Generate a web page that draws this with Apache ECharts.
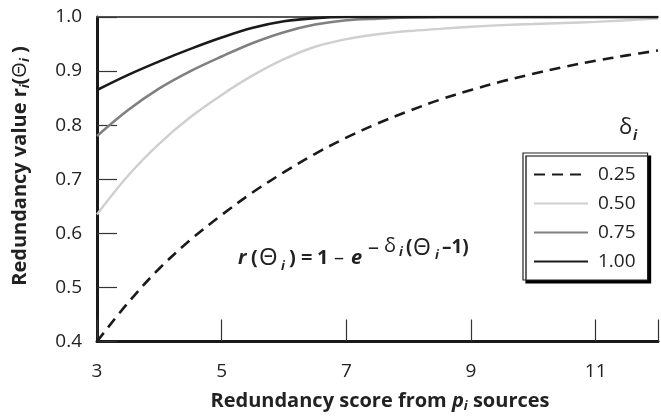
<!DOCTYPE html>
<html>
<head>
<meta charset="utf-8">
<script src="https://cdn.jsdelivr.net/npm/echarts@6/dist/echarts.min.js"></script>
<style>
html,body{margin:0;padding:0;background:#fff;}
#chart{width:661px;height:417px;}
</style>
</head>
<body>
<div id="chart"></div>
<script>
// Redundancy score Θ (x) values
var scores = [3, 3.5, 4, 4.5, 5, 5.5, 6, 6.5, 7, 7.5, 8, 8.5, 9, 9.5, 10, 10.5, 11, 11.5, 12];
// Redundancy value r for each δ
var delta025 = [0.400, 0.472, 0.535, 0.588, 0.634, 0.676, 0.713, 0.747, 0.777, 0.803, 0.826, 0.847, 0.865, 0.881, 0.895, 0.908, 0.919, 0.929, 0.938];
var delta050 = [0.635, 0.707, 0.766, 0.815, 0.856, 0.892, 0.922, 0.945, 0.959, 0.968, 0.974, 0.978, 0.982, 0.985, 0.987, 0.989, 0.991, 0.994, 0.997];
var delta075 = [0.780, 0.828, 0.868, 0.900, 0.927, 0.952, 0.972, 0.986, 0.994, 0.997, 0.999, 1.000, 1.000, 1.000, 1.000, 1.000, 1.000, 1.000, 1.000];
var delta100 = [0.865, 0.893, 0.918, 0.941, 0.962, 0.980, 0.992, 0.998, 1.000, 1.000, 1.000, 1.000, 1.000, 1.000, 1.000, 1.000, 1.000, 1.000, 1.000];
var seriesNames = ['0.25', '0.50', '0.75', '1.00'];
var xTicks = [3, 5, 7, 9, 11];
var yTicks = [0.4, 0.5, 0.6, 0.7, 0.8, 0.9, 1.0];

function pairs(ys) { return scores.map(function (x, i) { return [x, ys[i]]; }); }

var FONT = '"Open Sans", "DejaVu Sans", sans-serif';
var INK = '#222';
var chart = echarts.init(document.getElementById('chart'), null, {renderer: 'canvas'});

function mkSeries(name, ys, color, width, dash, z) {
  return {
    name: name, type: 'line', data: pairs(ys), smooth: 0.35, symbol: 'none',
    showSymbol: false,
    lineStyle: {color: color, width: width, type: dash}, itemStyle: {color: color},
    z: z, clip: true, animation: false
  };
}

function txt(x, y, s, opt) {
  opt = opt || {};
  return {
    type: 'text', x: x, y: y, rotation: opt.rot || 0,
    style: {
      text: s, fill: INK, fontFamily: FONT,
      fontSize: opt.size || 20, fontWeight: opt.weight || 'bold', fontStyle: opt.style || 'normal',
      textAlign: opt.align || 'left', textVerticalAlign: 'middle'
    }
  };
}

var titleRich = {
  b: {fontSize: 20, fontWeight: 'bold', fontFamily: FONT, fill: INK, lineHeight: 24},
  i: {fontSize: 20, fontWeight: 'bold', fontStyle: 'italic', fontFamily: FONT, fill: INK, lineHeight: 24},
  t: {fontSize: 20, fontWeight: 'normal', fontFamily: FONT, fill: INK, lineHeight: 24},
  s: {fontSize: 13, fontStyle: 'italic', fontWeight: 'bold', fontFamily: FONT, fill: INK, lineHeight: 14, verticalAlign: 'bottom'}
};

var option = {
  animation: false,
  textStyle: {fontFamily: FONT},
  grid: {left: 97, right: -7, top: 17, bottom: 75.5, containLabel: false},
  xAxis: [{
    type: 'value', min: 3, max: 12, interval: 2,
    axisLine: {show: true, lineStyle: {color: '#1a1a1a', width: 3}},
    axisTick: {show: true, inside: true, length: 22, lineStyle: {color: '#333', width: 1.2}},
    axisLabel: {show: true, fontSize: 19, color: INK, margin: 21, fontFamily: FONT,
      formatter: function (v) { return xTicks.indexOf(v) >= 0 ? String(v) : ''; }},
    splitLine: {show: false}
  }, {
    type: 'value', position: 'top', min: 3, max: 12,
    axisLine: {show: true, lineStyle: {color: '#555', width: 1.8}},
    axisTick: {show: false}, axisLabel: {show: false}, splitLine: {show: false}
  }],
  yAxis: {
    type: 'value', min: 0.4, max: 1.0, interval: 0.1,
    axisLine: {show: true, lineStyle: {color: '#1a1a1a', width: 3}},
    axisTick: {show: true, inside: true, length: 20, lineStyle: {color: '#333', width: 1.2}},
    axisLabel: {show: true, fontSize: 19, color: INK, margin: 15, fontFamily: FONT,
      formatter: function (v) { return v.toFixed(1); }},
    splitLine: {show: false}
  },
  legend: {
    data: seriesNames,
    orient: 'vertical', left: 523, top: 153,
    padding: [12, 12, 9, 10],
    itemWidth: 54, itemHeight: 14, itemGap: 10,
    itemStyle: {opacity: 0},
    backgroundColor: '#fff', borderColor: '#222', borderWidth: 1.2,
    shadowColor: 'rgba(0,0,0,1)', shadowBlur: 0, shadowOffsetX: 3, shadowOffsetY: 3,
    textStyle: {fontSize: 19, color: INK, fontFamily: FONT, lineHeight: 14, padding: [0, 0, 0, 5]}
  },
  series: [
    mkSeries(seriesNames[0], delta025, '#1a1a1a', 2.6, [11, 7], 4),
    mkSeries(seriesNames[1], delta050, '#cfcfcf', 2.4, 'solid', 1),
    mkSeries(seriesNames[2], delta075, '#808080', 2.6, 'solid', 2),
    mkSeries(seriesNames[3], delta100, '#1a1a1a', 2.6, 'solid', 3)
  ],
  graphic: [
    {
      type: 'text', x: 20, y: 166, rotation: Math.PI / 2,
      style: {
        text: '{b|Redundancy value r}{s|i}{b|(}{t|Θ}{s|i}{b| )}',
        textAlign: 'center', textVerticalAlign: 'middle', fill: INK, rich: titleRich
      }
    },
    {
      type: 'text', x: 380, y: 401,
      style: {
        text: '{b|Redundancy score from }{i|p}{s|i}{b| sources}',
        textAlign: 'center', textVerticalAlign: 'middle', fill: INK, rich: titleRich
      }
    },
    // formula r(Θi) = 1 − e^{−δi(Θi−1)}
    txt(238, 258, 'r', {style: 'italic'}),
    txt(251, 258, '(', {}),
    txt(259, 258, 'Θ', {weight: 'normal', size: 24}),
    txt(281, 266, 'i', {style: 'italic', size: 13}),
    txt(289, 258, ')', {}),
    txt(301, 258, '=', {}),
    txt(317, 258, '1', {}),
    txt(334, 258, '–', {weight: 'normal'}),
    txt(351, 258, 'e', {style: 'italic'}),
    txt(368, 248, '–', {weight: 'normal', size: 22}),
    txt(384, 246, 'δ', {weight: 'normal', size: 20}),
    txt(399, 252, 'i', {style: 'italic', size: 13}),
    txt(406, 248, '(', {size: 19}),
    txt(413, 248, 'Θ', {weight: 'normal', size: 23}),
    txt(435, 255, 'i', {style: 'italic', size: 13}),
    txt(442, 248, '–1)', {size: 19}),
    // legend heading δi
    txt(619, 128, 'δ', {weight: 'normal', size: 22}),
    txt(633, 136, 'i', {style: 'italic', size: 14})
  ]
};
chart.setOption(option);
</script>
</body>
</html>
